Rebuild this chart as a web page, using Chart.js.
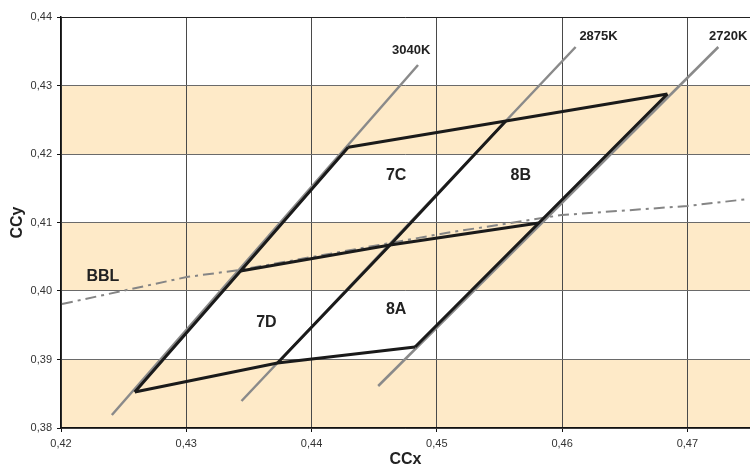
<!DOCTYPE html>
<html>
<head>
<meta charset="utf-8">
<script src="https://cdn.jsdelivr.net/npm/chart.js@4/dist/chart.umd.min.js"></script>
<style>
  body { margin: 0; background: #fff; }
  #wrap { width: 750px; height: 468px; position: relative; }
</style>
</head>
<body>
<div id="wrap"><canvas id="binChart"></canvas></div>
<script>
// isotherm lines (gray), one start/end pair each
const cctNames = ['3040K', '2875K', '2720K'];
const isoX = [[0.42406, 0.44850], [0.43441, 0.46108], [0.44532, 0.47247]];
const isoY = [[0.38190, 0.43299], [0.38394, 0.43562], [0.38613, 0.43562]];
const cctLabelX = [0.44795, 0.46291, 0.47326];
const cctLabelY = [0.43518, 0.43723, 0.43723];

// black body locus
const bblX = [0.42008, 0.43003, 0.43425, 0.45073, 0.45997, 0.47000, 0.47486];
const bblY = [0.39810, 0.40204, 0.40307, 0.40847, 0.41109, 0.41241, 0.41343];

// bin corners, bottom -> middle -> top
const leftX = [0.42589, 0.43433, 0.44293];
const leftY = [0.38526, 0.40292, 0.42100];
const centerX = [0.43728, 0.44627, 0.45551];
const centerY = [0.38949, 0.40672, 0.42482];
const rightX = [0.44826, 0.45814, 0.46841];
const rightY = [0.39182, 0.40993, 0.42876];

const binNames = ['7C', '8B', '7D', '8A', 'BBL'];
const binLabelX = [0.44675, 0.45670, 0.43640, 0.44675, 0.42334];
const binLabelY = [0.41679, 0.41679, 0.39533, 0.39723, 0.40204];

// shaded bands on y
const bandLow = [0.38, 0.40, 0.42];
const bandHigh = [0.39, 0.41, 0.43];

const xTicks = [0.42, 0.43, 0.44, 0.45, 0.46, 0.47];

function pts(xs, ys) {
  return xs.map((x, i) => ({ x: x, y: ys[i] }));
}

const datasets = [];
// black outline first so it lands on top
const blackLine = { borderColor: '#1a1a1a', borderWidth: 3, order: 1 };
datasets.push(Object.assign({ data: pts(leftX, leftY) }, blackLine));
datasets.push(Object.assign({ data: pts(centerX, centerY) }, blackLine));
datasets.push(Object.assign({ data: pts(rightX, rightY) }, blackLine));
for (let i = 0; i < 3; i++) {
  datasets.push(Object.assign({
    data: pts([leftX[i], centerX[i], rightX[i]], [leftY[i], centerY[i], rightY[i]])
  }, blackLine));
}
datasets.push({
  data: pts(bblX, bblY),
  borderColor: '#858585',
  borderWidth: 2,
  borderDash: [11, 5, 3, 5],
  order: 2
});
for (let i = 0; i < isoX.length; i++) {
  datasets.push({
    data: pts(isoX[i], isoY[i]),
    borderColor: '#8a8a8a',
    borderWidth: 2.5,
    order: 3
  });
}

const bandPlugin = {
  id: 'bands',
  beforeDraw(chart) {
    const { ctx, chartArea, scales } = chart;
    ctx.save();
    ctx.fillStyle = '#FEEAC8';
    for (let i = 0; i < bandLow.length; i++) {
      const yTop = scales.y.getPixelForValue(bandHigh[i]);
      const yBot = scales.y.getPixelForValue(bandLow[i]);
      ctx.fillRect(chartArea.left, yTop, chartArea.right - chartArea.left, yBot - yTop);
    }
    ctx.restore();
  }
};

const textPlugin = {
  id: 'texts',
  afterDatasetsDraw(chart) {
    const { ctx, scales } = chart;
    ctx.save();
    ctx.fillStyle = '#222';
    ctx.textAlign = 'center';
    ctx.textBaseline = 'middle';
    ctx.font = 'bold 13px "Liberation Sans", Arial, sans-serif';
    cctNames.forEach((t, i) => {
      ctx.fillText(t, scales.x.getPixelForValue(cctLabelX[i]), scales.y.getPixelForValue(cctLabelY[i]));
    });
    ctx.font = 'bold 16px "Liberation Sans", Arial, sans-serif';
    binNames.forEach((t, i) => {
      ctx.fillText(t, scales.x.getPixelForValue(binLabelX[i]), scales.y.getPixelForValue(binLabelY[i]));
    });
    ctx.restore();
  }
};

const fmt = v => Number(v).toFixed(2).replace('.', ',');

new Chart(document.getElementById('binChart'), {
  type: 'scatter',
  data: { datasets: datasets },
  options: {
    responsive: true,
    maintainAspectRatio: false,
    animation: false,
    showLine: true,
    elements: { point: { radius: 0, hoverRadius: 0 }, line: { tension: 0, fill: false } },
    layout: { padding: { top: 17, right: 0, left: 0, bottom: 0 } },
    plugins: { legend: { display: false }, tooltip: { enabled: false } },
    scales: {
      x: {
        type: 'linear',
        min: 0.42,
        max: 0.475,
        afterBuildTicks: scale => { scale.ticks = xTicks.map(v => ({ value: v })); },
        afterFit: scale => { scale.height = 40; },
        ticks: {
          callback: fmt,
          color: '#333',
          padding: 5,
          font: { family: '"Liberation Sans", Arial, sans-serif', size: 11 }
        },
        grid: { color: '#4a4a4a', tickColor: '#111', tickLength: 4, lineWidth: 1 },
        border: { color: '#111', width: 1.5 },
        title: {
          display: true,
          text: 'CCx',
          color: '#222',
          padding: { top: 0, bottom: 0 },
          font: { family: '"Liberation Sans", Arial, sans-serif', size: 16, weight: 'bold', lineHeight: 1 }
        }
      },
      y: {
        type: 'linear',
        min: 0.38,
        max: 0.44,
        ticks: {
          stepSize: 0.01,
          callback: fmt,
          color: '#333',
          padding: 5,
          font: { family: '"Liberation Sans", Arial, sans-serif', size: 11 }
        },
        afterFit: scale => { scale.width = 61; },
        grid: {
          color: ctx => (ctx.tick && Math.abs(ctx.tick.value - 0.44) < 1e-6) ? '#222' : '#6a6a6a',
          tickColor: '#111',
          tickLength: 4,
          lineWidth: 1
        },
        border: { color: '#111', width: 1.5 },
        title: {
          display: true,
          text: 'CCy',
          color: '#222',
          padding: { top: 10, bottom: 0 },
          font: { family: '"Liberation Sans", Arial, sans-serif', size: 16, weight: 'bold', lineHeight: 1 }
        }
      }
    }
  },
  plugins: [bandPlugin, textPlugin]
});
</script>
</body>
</html>
